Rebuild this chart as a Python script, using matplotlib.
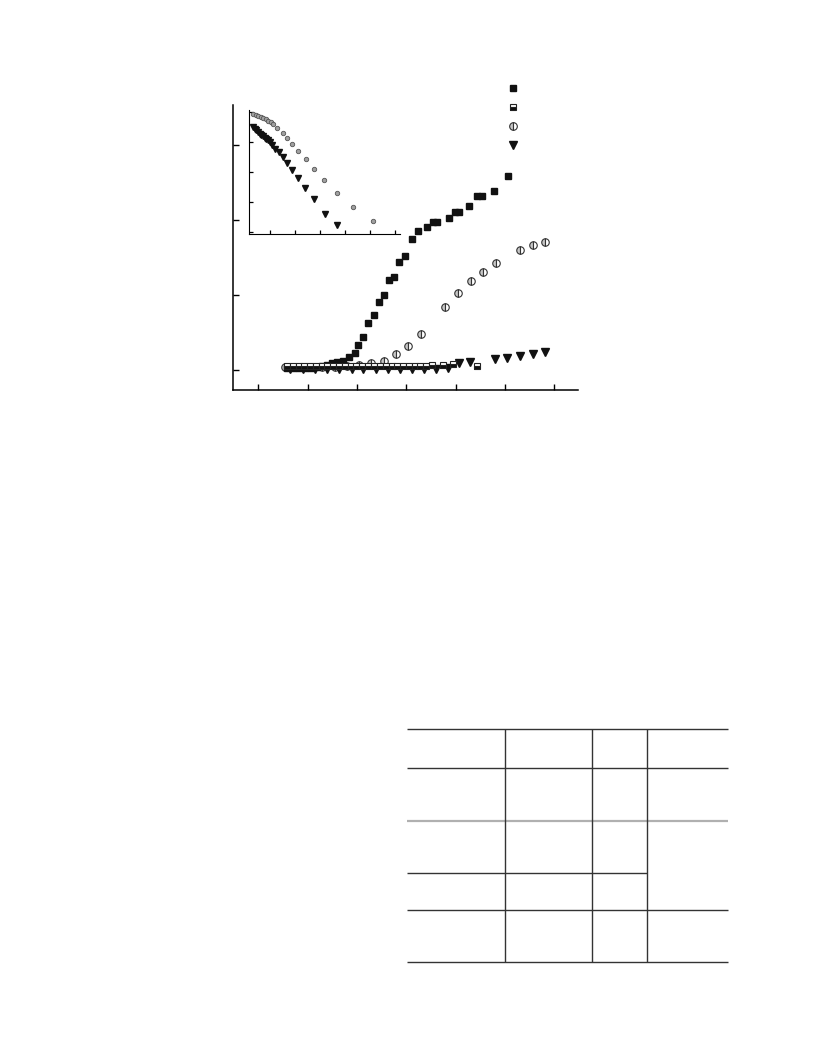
import matplotlib
matplotlib.use('Agg')
import matplotlib.pyplot as plt
from matplotlib.lines import Line2D

# main plot data
sq_x = [0.58, 0.70, 0.82, 0.94, 1.06, 1.18, 1.30, 1.40, 1.49, 1.59, 1.71, 1.83, 1.95, 2.03,
        2.13, 2.23, 2.34, 2.45, 2.54, 2.64, 2.75, 2.86, 2.98, 3.12, 3.24, 3.42, 3.55, 3.63,
        3.87, 3.98, 4.07, 4.28, 4.43, 4.53, 4.78, 5.06]
sq_y = [0.03, 0.03, 0.03, 0.03, 0.03, 0.04, 0.05, 0.07, 0.09, 0.10, 0.12, 0.17, 0.22, 0.33,
        0.44, 0.62, 0.73, 0.90, 1.00, 1.20, 1.24, 1.44, 1.52, 1.75, 1.85, 1.91, 1.97, 1.97,
        2.03, 2.11, 2.11, 2.18, 2.32, 2.32, 2.39, 2.58]

half_x = [0.58, 0.70, 0.82, 0.93, 1.05, 1.17, 1.29, 1.40, 1.52, 1.64, 1.76, 1.87, 1.99, 2.11,
          2.23, 2.34, 2.46, 2.58, 2.70, 2.81, 2.93, 3.05, 3.17, 3.28, 3.40, 3.52, 3.75, 3.94, 4.43]
half_y = [0.05, 0.05, 0.05, 0.05, 0.05, 0.05, 0.05, 0.05, 0.05, 0.05, 0.05, 0.05, 0.05, 0.05,
          0.05, 0.05, 0.05, 0.05, 0.05, 0.05, 0.05, 0.05, 0.05, 0.05, 0.05, 0.06, 0.07, 0.08, 0.05]

circ_x = [0.55, 0.80, 1.05, 1.30, 1.55, 1.80, 2.05, 2.29, 2.54, 2.79, 3.04, 3.29, 3.79, 4.05,
          4.31, 4.56, 4.82, 5.31, 5.57, 5.82]
circ_y = [0.04, 0.04, 0.04, 0.04, 0.04, 0.05, 0.06, 0.09, 0.12, 0.21, 0.32, 0.48, 0.84, 1.02,
          1.18, 1.31, 1.43, 1.60, 1.66, 1.71]

tri_x = [0.65, 0.90, 1.15, 1.39, 1.64, 1.89, 2.13, 2.38, 2.62, 2.87, 3.11, 3.35, 3.60, 3.84,
         4.06, 4.29, 4.80, 5.05, 5.31, 5.57, 5.82]
tri_y = [0.01, 0.01, 0.01, 0.01, 0.01, 0.01, 0.01, 0.01, 0.01, 0.01, 0.01, 0.01, 0.01, 0.03,
         0.09, 0.10, 0.14, 0.16, 0.19, 0.21, 0.24]

# inset data
in_circ_x = [0.35, 0.46, 0.55, 0.65, 0.75, 0.86, 0.95, 1.05, 1.15, 1.31, 1.53, 1.71, 1.91,
             2.15, 2.45, 2.78, 3.19, 3.71, 4.35, 5.15]
in_circ_y = [3.92, 3.90, 3.87, 3.83, 3.79, 3.75, 3.70, 3.66, 3.58, 3.45, 3.28, 3.11, 2.91,
             2.69, 2.41, 2.09, 1.71, 1.30, 0.83, 0.35]
in_tri_x = [0.34, 0.41, 0.47, 0.54, 0.61, 0.67, 0.74, 0.81, 0.87, 0.94, 1.03, 1.11, 1.23,
            1.38, 1.53, 1.71, 1.90, 2.14, 2.43, 2.77, 3.21, 3.71]
in_tri_y = [3.48, 3.43, 3.38, 3.32, 3.27, 3.22, 3.18, 3.13, 3.09, 3.05, 2.98, 2.90, 2.77,
            2.65, 2.48, 2.29, 2.06, 1.79, 1.46, 1.08, 0.59, 0.23]

# table grid (page pixels)
tab_left, tab_right = 407, 728
row_edges = [729, 768, 821, 873, 910, 962]
col_edges = [505, 592, 647]

fig = plt.figure(figsize=(8.16, 10.56), dpi=100)

ax = fig.add_axes([233/816, 1 - 390/1056, 345/816, 285/1056])
ax.plot(circ_x, circ_y, ls='none', marker='o', ms=5.4, fillstyle='left',
        mfc='#c8c8c8', mfcalt='white', mec='#333333', mew=0.8, zorder=2)
ax.plot(tri_x, tri_y, ls='none', marker='v', ms=6, color='#111111', zorder=3)
ax.plot(sq_x, sq_y, ls='none', marker='s', ms=4.6, color='#111111', mec='#111111', zorder=4)
ax.plot(half_x, half_y, ls='none', marker='s', ms=4.6, fillstyle='bottom',
        mfc='#111111', mfcalt='white', mec='#222222', mew=0.8, zorder=5)
ax.set_xlim(-0.513, 6.48)
ax.set_ylim(-0.267, 3.533)
ax.set_xticks([0, 1, 2, 3, 4, 5, 6])
ax.set_yticks([0, 1, 2, 3])
ax.tick_params(direction='in', length=4, width=1, labelleft=False, labelbottom=False)
for s in ['top', 'right']:
    ax.spines[s].set_visible(False)
for s in ['left', 'bottom']:
    ax.spines[s].set_linewidth(1.1)

# inset
ins = fig.add_axes([249.3/816, 1 - 234/1056, 150.7/816, 124/1056])
ins.plot(in_circ_x, in_circ_y, ls='none', marker='o', ms=3.2, mfc='#a0a0a0', mec='#555555', mew=0.6)
ins.plot(in_tri_x, in_tri_y, ls='none', marker='v', ms=3.8, color='#111111')
ins.set_xlim(0.19, 6.22)
ins.set_ylim(-0.077, 4.06)
ins.set_xticks([1, 2, 3, 4, 5, 6])
ins.set_yticks([0, 1, 2, 3, 4])
ins.tick_params(direction='in', length=3, width=0.9, labelleft=False, labelbottom=False)
for s in ['top', 'right']:
    ins.spines[s].set_visible(False)

# legend (text removed in the original)
handles = [
    Line2D([], [], ls='none', marker='s', ms=5, color='#111111'),
    Line2D([], [], ls='none', marker='s', ms=5, fillstyle='bottom', mfc='#111111',
           mfcalt='white', mec='#222222', mew=0.8),
    Line2D([], [], ls='none', marker='o', ms=5.5, fillstyle='left', mfc='#c8c8c8',
           mfcalt='white', mec='#333333', mew=0.8),
    Line2D([], [], ls='none', marker='v', ms=6, color='#111111'),
]
fig.legend(handles, ['', '', '', ''], loc='center', bbox_to_anchor=(512.7/816, 1 - 117.5/1056),
           frameon=False, fontsize=8, handlelength=1, handletextpad=0, labelspacing=0.8,
           borderpad=0, borderaxespad=0)

# table skeleton
tb = fig.add_axes([0, 0, 1, 1])
tb.set_xlim(0, 816)
tb.set_ylim(1056, 0)
tb.axis('off')
line_col = '#333333'
for i, yy in enumerate(row_edges):
    if i == 3:
        tb.hlines(yy, tab_left, col_edges[2], color=line_col, lw=1)
    elif i == 2:
        tb.hlines(yy, tab_left, tab_right, color='#b0b0b0', lw=1.6)
    else:
        tb.hlines(yy, tab_left, tab_right, color=line_col, lw=1)
tb.vlines(col_edges, row_edges[0], row_edges[-1], color=line_col, lw=1)

fig.savefig('out.png', dpi=100)
